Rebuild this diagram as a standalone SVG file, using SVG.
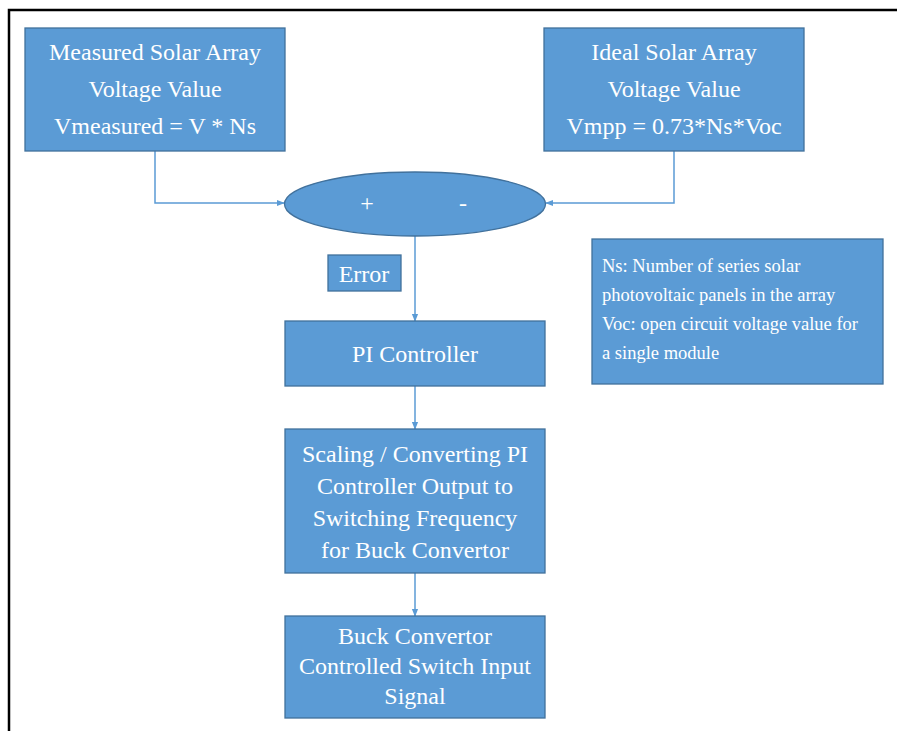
<svg xmlns="http://www.w3.org/2000/svg" width="897" height="731" viewBox="0 0 897 731">
<defs>
<style>
.box{fill:#5B9BD5;stroke:#41719C;stroke-width:1.3}
text{font-family:'Liberation Serif','Times New Roman',Times,serif;fill:#ffffff}
.t{font-size:24px;text-anchor:middle}
.n{font-size:18.5px}
.c{fill:none;stroke:#5B9BD5;stroke-width:1.5}
</style>
<marker id="ah" viewBox="0 0 10 10" refX="9" refY="5" markerWidth="8" markerHeight="8" orient="auto" markerUnits="userSpaceOnUse">
<path d="M0,1 L10,5 L0,9 Z" fill="#5B9BD5"/>
</marker>
</defs>
<rect width="897" height="731" fill="#ffffff"/>
<path d="M9,731 V10 H897" fill="none" stroke="#000" stroke-width="2.5"/>
<g id="connectors">
<path class="c" d="M155,151 V203 H284" marker-end="url(#ah)"/>
<path class="c" d="M674,151 V203 H546" marker-end="url(#ah)"/>
<path class="c" d="M415,236 V321" marker-end="url(#ah)"/>
<path class="c" d="M415,386 V429" marker-end="url(#ah)"/>
<path class="c" d="M415,573 V616" marker-end="url(#ah)"/>
</g>
<g id="measured">
<rect class="box" x="25" y="28" width="260" height="123"/>
<text class="t" x="155" y="60">Measured Solar Array</text>
<text class="t" x="155" y="97">Voltage Value</text>
<text class="t" x="155" y="134">Vmeasured = V * Ns</text>
</g>
<g id="ideal">
<rect class="box" x="544" y="28" width="260" height="123"/>
<text class="t" x="674" y="60">Ideal Solar Array</text>
<text class="t" x="674" y="97">Voltage Value</text>
<text class="t" x="674" y="134">Vmpp = 0.73*Ns*Voc</text>
</g>
<g id="sum">
<ellipse class="box" cx="415" cy="204" rx="130.5" ry="32"/>
<text class="t" x="367" y="211">+</text>
<text class="t" x="463" y="211">-</text>
</g>
<g id="error">
<rect class="box" x="328" y="255" width="73" height="36"/>
<text class="t" x="364" y="282">Error</text>
</g>
<g id="note">
<rect class="box" x="592" y="239" width="291" height="145"/>
<text class="n" x="602" y="272">Ns: Number of series solar</text>
<text class="n" x="602" y="301">photovoltaic panels in the array</text>
<text class="n" x="602" y="330">Voc: open circuit voltage value for</text>
<text class="n" x="602" y="359">a single module</text>
</g>
<g id="pi">
<rect class="box" x="285" y="321" width="260" height="65"/>
<text class="t" x="415" y="362">PI Controller</text>
</g>
<g id="scaling">
<rect class="box" x="285" y="429" width="260" height="144"/>
<text class="t" x="415" y="462">Scaling / Converting PI</text>
<text class="t" x="415" y="494">Controller Output to</text>
<text class="t" x="415" y="526">Switching Frequency</text>
<text class="t" x="415" y="558">for Buck Convertor</text>
</g>
<g id="buck">
<rect class="box" x="285" y="616" width="260" height="102"/>
<text class="t" x="415" y="644">Buck Convertor</text>
<text class="t" x="415" y="674">Controlled Switch Input</text>
<text class="t" x="415" y="704">Signal</text>
</g>
</svg>
